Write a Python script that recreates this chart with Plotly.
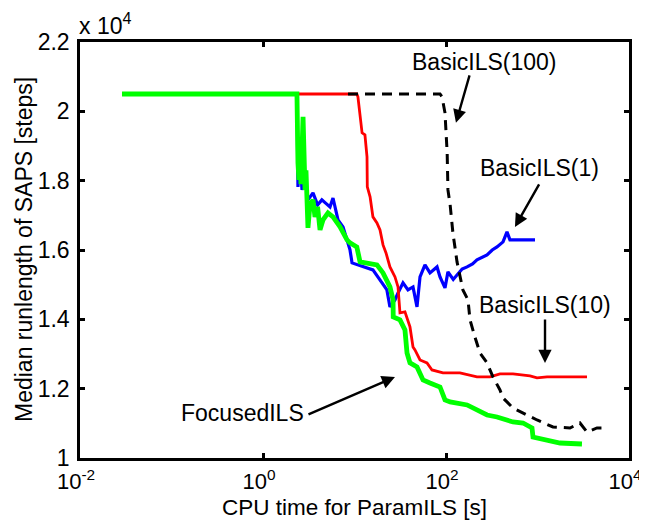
import plotly.graph_objects as go
import math

# ---- data (CPU time [s], median runlength [steps]) ----
focused_t = [0.0288, 2.35, 2.41, 2.47, 2.54, 2.6, 2.74, 2.88, 2.95, 3.10, 3.26, 3.52, 3.70, 3.95, 4.20, 4.53,
             5.13, 5.82, 6.95, 7.49, 8.28, 8.93, 10.6, 11.5, 17.6, 20.5, 24.4, 26.4, 26.5, 31.4, 35.6, 37.5,
             40.4, 48.2, 56.1, 66.8, 86.0, 97.5, 111, 170, 218, 281, 361, 540, 695, 871, 893, 1271, 1762, 3062]
focused_y = [20500, 20500, 18514, 18023, 18889, 17900, 19841, 17734, 18300, 16638, 17300, 17446, 16955, 17244,
             16580, 16869, 17071, 16955, 16667, 16494, 16291, 16205, 16089, 15657, 15570, 15339, 14935, 14560,
             14069, 13983, 13694, 13030, 12742, 12626, 12251, 12165, 12049, 11674, 11616, 11530, 11385, 11241,
             11183, 11039, 11010, 10866, 10606, 10519, 10433, 10404]

basic1_t = [0.0288, 2.35, 2.41, 2.54, 2.67, 2.88, 3.10, 3.52, 3.95, 4.4, 4.8, 5.40, 5.82, 6.60, 7.49, 8.28,
            8.93, 9.4, 12.4, 15.9, 20.0, 22.6, 24.4, 27.7, 29.9, 33.9, 38.4, 43.6, 48.2, 52.0, 58.9, 66.8,
            79.8, 86.0, 97.5, 105, 120, 132, 150, 170, 195, 218, 250, 281, 320, 361, 420, 464, 500, 597, 695, 939]
basic1_y = [20500, 20500, 17821, 18600, 17734, 18150, 17446, 17648, 17300, 17446, 17360, 17244, 17500, 16869,
            16667, 16291, 16003, 15628, 15512, 15426, 15051, 14848, 14358, 14560, 14762, 15051, 14848, 14935,
            14358, 15224, 15570, 15339, 15512, 15224, 14906, 15368, 15150, 15281, 15450, 15512, 15600, 15714,
            15780, 15859, 16000, 16089, 16234, 16522, 16291, 16291, 16291, 16291]

basic10_t = [0.0288, 10.6, 10.9, 11.5, 12.1, 13.0, 13.7, 13.8, 14.8, 15.9, 17.6, 19.0, 20.5, 22.1, 24.4, 27.7,
             29.9, 31.4, 35.6, 40.4, 43.6, 45.8, 52.0, 62.0, 70.3, 92.7, 142, 218, 303, 389, 540, 828, 988,
             1271, 1900, 3474]
basic10_y = [20500, 20500, 20418, 19957, 19380, 19322, 18687, 17821, 17532, 16955, 16782, 16580, 16147, 15916,
             15512, 15224, 14935, 14185, 14214, 13781, 13203, 13117, 12828, 12742, 12540, 12453, 12453, 12338,
             12338, 12424, 12424, 12367, 12309, 12338, 12338, 12338]

basic100_t = [8.49, 86.0, 90.4, 97.5, 103, 105, 111, 119, 132, 142, 153, 174, 183, 207, 235, 281, 326, 389,
              420, 540, 695, 988, 1476, 2265, 2911, 3474, 4467, 5890]
basic100_y = [20500, 20500, 20418, 19957, 18802, 17734, 17300, 16494, 15657, 15224, 14848, 14560, 13983, 13492,
              13030, 12742, 12338, 11962, 11732, 11443, 11299, 11097, 10895, 10866, 11010, 10750, 10866, 10866]

y_ticks = [10000, 12000, 14000, 16000, 18000, 20000, 22000]
y_ticktext = ["1", "1.2", "1.4", "1.6", "1.8", "2", "2.2"]
x_ticks = [0.01, 1, 100, 10000]
x_ticktext = ["10<sup>-2</sup>", "10<sup>0</sup>", "10<sup>2</sup>", "10<sup>4</sup>"]

# annotation labels: (text, text_t, text_y, head_t, head_y, ax, ay)
labels = [
    ("BasicILS(100)", 260, 21429, 128.5, 19668, 14, -49),
    ("BasicILS(1)", 1064, 18369, 567, 16667, 25, -44),
    ("BasicILS(10)", 1208, 14416, 1208, 12742, 0, -45),
    ("FocusedILS", 0.604, 11299, 27.7, 12338, -88, 38),
]

FONT = "Liberation Sans, Arial, sans-serif"
FS = 23

fig = go.Figure()
fig.add_trace(go.Scatter(x=basic1_t, y=basic1_y, mode="lines", line=dict(color="#0000ff", width=3.2),
                         name="BasicILS(1)"))
fig.add_trace(go.Scatter(x=basic10_t, y=basic10_y, mode="lines", line=dict(color="#ff0000", width=2.8),
                         name="BasicILS(10)"))
fig.add_trace(go.Scatter(x=basic100_t, y=basic100_y, mode="lines",
                         line=dict(color="#000000", width=3, dash="10px,7px"), name="BasicILS(100)"))
fig.add_trace(go.Scatter(x=focused_t, y=focused_y, mode="lines", line=dict(color="#00ff00", width=4.8),
                         name="FocusedILS"))

annotations = []
for text, tt, ty, ht, hy, ax, ay in labels:
    annotations.append(dict(x=math.log10(tt), y=ty, xref="x", yref="y", text=text, showarrow=False,
                            font=dict(family=FONT, size=FS, color="black")))
    annotations.append(dict(x=math.log10(ht), y=hy, xref="x", yref="y", text="", showarrow=True,
                            ax=ax, ay=ay, arrowhead=2, arrowsize=1.1, arrowwidth=2.4, arrowcolor="black",
                            standoff=0))
annotations.append(dict(x=0, y=1, xref="paper", yref="paper", xanchor="left", yanchor="bottom",
                        text="x 10<sup>4</sup>", showarrow=False, xshift=-3, yshift=1,
                        font=dict(family=FONT, size=FS, color="black")))
annotations.append(dict(x=0.5, y=0, xref="paper", yref="paper", xanchor="center", yanchor="top",
                        text="CPU time for ParamILS [s]", showarrow=False, yshift=-35,
                        font=dict(family=FONT, size=22.5, color="black")))
annotations.append(dict(x=0, y=0.5, xref="paper", yref="paper", xanchor="center", yanchor="middle",
                        text="Median runlength of SAPS [steps]", showarrow=False, xshift=-56, textangle=-90,
                        font=dict(family=FONT, size=FS, color="black")))

# page body adds an 8px offset, so the figure is sized 8px smaller than the window
fig.update_layout(
    width=639, height=516,
    margin=dict(l=72, r=18, t=34, b=66, autoexpand=False),
    paper_bgcolor="white", plot_bgcolor="white",
    showlegend=False,
    font=dict(family=FONT, size=FS, color="black"),
    annotations=annotations,
    xaxis=dict(type="log", range=[-2, 4], tickvals=x_ticks, ticktext=x_ticktext,
               showline=True, linecolor="black", linewidth=2.5, mirror="ticks",
               ticks="inside", ticklen=5, tickwidth=2.5, tickcolor="black", showgrid=False, zeroline=False,
               ticklabelstandoff=2, ticklabelshift=-4, automargin=False,
               tickfont=dict(family=FONT, size=22, color="black")),
    yaxis=dict(range=[10000, 22000], tickvals=y_ticks, ticktext=y_ticktext,
               showline=True, linecolor="black", linewidth=2.5, mirror="ticks",
               ticks="inside", ticklen=5, tickwidth=2.5, tickcolor="black", showgrid=False, zeroline=False,
               automargin=False, ticklabelstandoff=3,
               tickfont=dict(family=FONT, size=FS, color="black")),
)

fig.write_html("out.html")
